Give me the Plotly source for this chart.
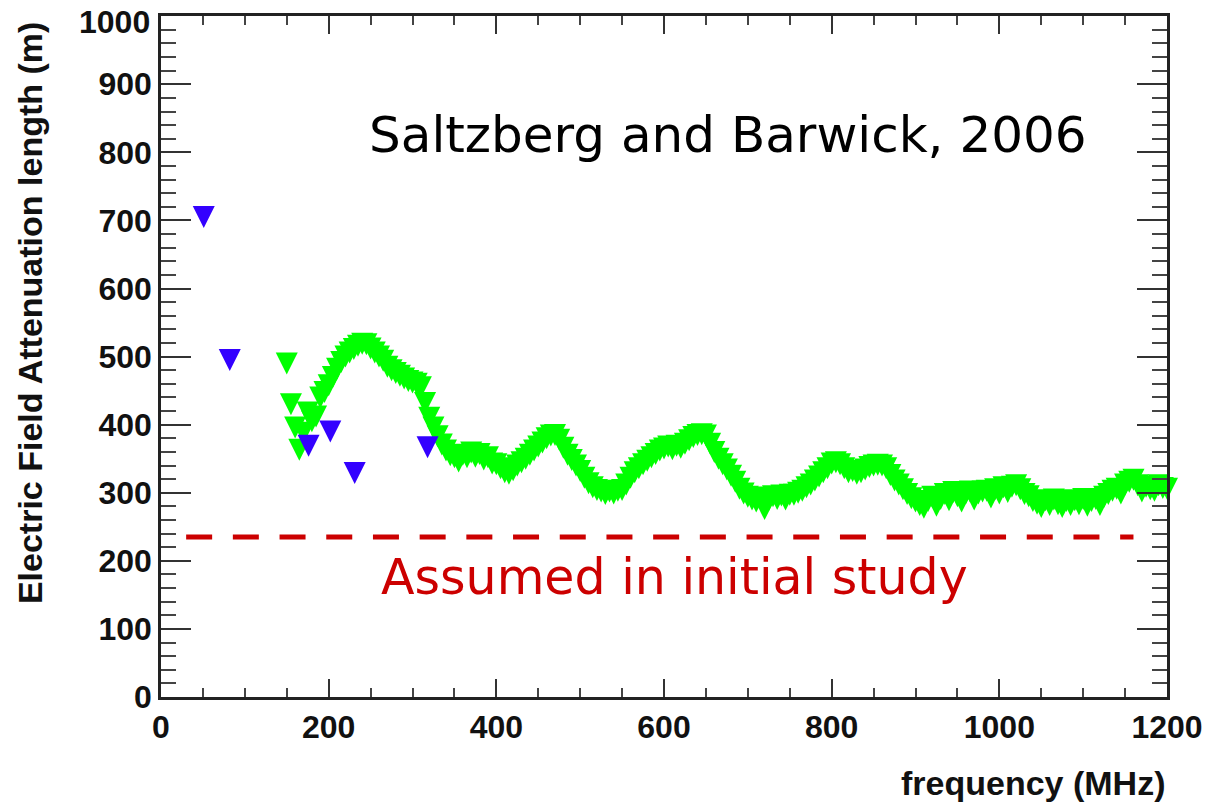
import plotly.graph_objects as go

# Attenuation length measurements (frequency in MHz, length in m)
green_freq = [
    150, 155, 160, 165, 170, 175, 180, 185, 190, 195, 200, 205, 210, 215, 220, 225, 230, 235, 240, 245,
    250, 255, 260, 265, 270, 275, 280, 285, 290, 295, 300, 305, 310, 315, 320, 325, 330, 335, 340, 345,
    350, 355, 360, 365, 370, 375, 380, 385, 390, 395, 400, 405, 410, 415, 420, 425, 430, 435, 440, 445,
    450, 455, 460, 465, 470, 475, 480, 485, 490, 495, 500, 505, 510, 515, 520, 525, 530, 535, 540, 545,
    550, 555, 560, 565, 570, 575, 580, 585, 590, 595, 600, 605, 610, 615, 620, 625, 630, 635, 640, 645,
    650, 655, 660, 665, 670, 675, 680, 685, 690, 695, 700, 705, 710, 715, 720, 725, 730, 735, 740, 745,
    750, 755, 760, 765, 770, 775, 780, 785, 790, 795, 800, 805, 810, 815, 820, 825, 830, 835, 840, 845,
    850, 855, 860, 865, 870, 875, 880, 885, 890, 895, 900, 905, 910, 915, 920, 925, 930, 935, 940, 945,
    950, 955, 960, 965, 970, 975, 980, 985, 990, 995, 1000, 1005, 1010, 1015, 1020, 1025, 1030, 1035, 1040, 1045,
    1050, 1055, 1060, 1065, 1070, 1075, 1080, 1085, 1090, 1095, 1100, 1105, 1110, 1115, 1120, 1125, 1130, 1135, 1140, 1145,
    1150, 1155, 1160, 1165, 1170, 1175, 1180, 1185, 1190, 1195, 1200,
]
green_length = [
    490, 430, 396, 363, 388, 418, 405, 412, 440, 448, 458, 470, 482, 492, 500, 506, 511, 516, 519, 518,
    512, 506, 500, 494, 485, 480, 476, 472, 468, 464, 462, 460, 455, 432, 410, 396, 383, 371, 362, 355,
    352, 346, 356, 352, 359, 353, 357, 349, 352, 343, 342, 336, 330, 328, 333, 340, 345, 350, 356, 362,
    368, 374, 380, 384, 385, 378, 366, 356, 348, 340, 332, 322, 314, 308, 304, 302, 298, 302, 299, 303,
    304, 312, 322, 330, 336, 342, 347, 352, 357, 362, 365, 368, 364, 369, 366, 372, 377, 382, 385, 386,
    384, 372, 360, 350, 342, 334, 325, 316, 306, 299, 294, 290, 287, 293, 276, 289, 295, 291, 296, 290,
    297, 297, 300, 303, 308, 312, 318, 324, 330, 336, 343, 345, 342, 336, 330, 332, 328, 330, 334, 338,
    340, 341, 340, 336, 326, 318, 312, 305, 298, 292, 287, 282, 278, 288, 294, 281, 291, 298, 289, 301,
    295, 287, 299, 302, 290, 299, 302, 303, 293, 305, 299, 308, 301, 309, 311, 305, 298, 295, 288, 284,
    279, 289, 282, 290, 283, 279, 288, 282, 289, 283, 291, 281, 288, 291, 282, 294, 298, 303, 306, 299,
    312, 316, 319, 311, 302, 309, 305, 303, 311, 307, 306,
]

blue_freq = [51, 82, 176, 202, 231, 318]
blue_length = [705, 495, 369, 390, 329, 367]

assumed_length = 235
assumed_span = [30, 1160]

x_range = [0, 1200]
y_range = [0, 1000.3]
y_tickvals = [0, 100, 200, 300, 400, 500, 600, 700, 800, 900, 1000]
# the top label is drawn separately, nudged inside the page
y_ticktext = ["0", "100", "200", "300", "400", "500", "600", "700", "800", "900", ""]

MARKER = 22
axis_font = dict(family="Liberation Sans", size=32, color="#111111", weight="bold")

fig = go.Figure()

fig.add_trace(go.Scatter(
    x=assumed_span, y=[assumed_length, assumed_length], mode="lines",
    line=dict(color="#cc0000", width=5, dash="26px,20.7px"),
    hoverinfo="skip", cliponaxis=False,
))

fig.add_trace(go.Scatter(
    x=green_freq, y=green_length, mode="markers",
    marker=dict(symbol="arrow-down", size=MARKER, standoff=MARKER / 2,
                color="#00ff00", line=dict(width=0)),
    cliponaxis=False,
))

fig.add_trace(go.Scatter(
    x=blue_freq, y=blue_length, mode="markers",
    marker=dict(symbol="arrow-down", size=MARKER, standoff=MARKER / 2,
                color="#3300ff", line=dict(width=0)),
    cliponaxis=False,
))

fig.update_xaxes(
    range=x_range, dtick=200, tick0=0, automargin=False,
    showline=True, linecolor="#222222", linewidth=2.5, mirror="allticks",
    ticks="inside", ticklen=18, tickwidth=2, tickcolor="#333333",
    minor=dict(ticks="inside", dtick=50, ticklen=9, tickwidth=2, tickcolor="#444444"),
    showgrid=False, zeroline=False, tickfont=axis_font,
)
fig.update_yaxes(
    range=y_range, tickmode="array", tickvals=y_tickvals, ticktext=y_ticktext,
    automargin=False,
    showline=True, linecolor="#222222", linewidth=2.5, mirror="allticks",
    ticks="inside", ticklen=30, tickwidth=2, tickcolor="#333333",
    minor=dict(ticks="inside", dtick=20, ticklen=15, tickwidth=2, tickcolor="#444444"),
    showgrid=False, zeroline=False, tickfont=axis_font,
)

fig.add_annotation(
    text="1000", x=-0.0109, y=1.0, xref="paper", yref="paper",
    xanchor="right", yanchor="top", yshift=14, xshift=2, showarrow=False,
    font=axis_font,
)
fig.add_annotation(
    text="Saltzberg and Barwick, 2006", x=676, y=826, xref="x", yref="y",
    xanchor="center", yanchor="middle", showarrow=False,
    font=dict(family="DejaVu Sans", size=50, color="#000000"),
)
fig.add_annotation(
    text="Assumed in initial study", x=612, y=175, xref="x", yref="y",
    xanchor="center", yanchor="middle", showarrow=False,
    font=dict(family="DejaVu Sans", size=49, color="#cc0000"),
)
fig.add_annotation(
    text="Electric Field Attenuation length (m)", x=-0.1302, y=0.994,
    xref="paper", yref="paper", textangle=-90, xanchor="center", yanchor="top",
    showarrow=False, font=dict(family="Liberation Sans", size=34, color="#111111", weight="bold"),
)
fig.add_annotation(
    text="frequency (MHz)", x=1.0, y=-0.1263, xref="paper", yref="paper",
    xanchor="right", yanchor="middle", showarrow=False,
    font=dict(family="Liberation Sans", size=34, color="#111111", weight="bold"),
)

fig.update_layout(
    width=1207, height=804,
    margin=dict(l=161, r=40, t=16, b=107, autoexpand=False),
    paper_bgcolor="white", plot_bgcolor="white",
    showlegend=False,
)

fig.write_html("out.html")
